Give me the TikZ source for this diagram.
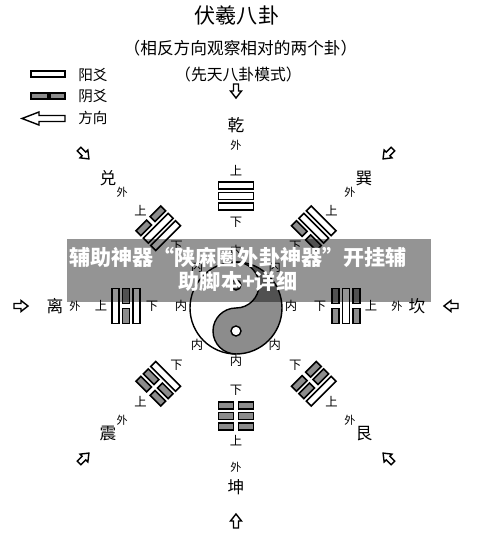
\documentclass[tikz,border=0pt]{standalone}
\usepackage{fontspec}
\setmainfont{Noto Sans CJK SC}
\usetikzlibrary{calc}

\definecolor{yingray}{gray}{0.55}

\tikzset{
  yang/.style={draw, line width=0.9pt, fill=white},
  yin/.style={draw, line width=0.9pt, fill=yingray},
  hollow/.style={draw, line width=0.8pt, fill=white, line join=miter},
  yaotag/.style={font=\fontsize{7}{8}\selectfont, inner sep=0pt},
  waitag/.style={font=\fontsize{6.3}{7}\selectfont, inner sep=0pt},
  guaname/.style={font=\fontsize{9.5}{11}\selectfont, inner sep=0pt},
  legend/.style={font=\fontsize{8.3}{10}\selectfont, inner sep=0pt, anchor=west},
}

% one line of a trigram: #1 = offset, #2 = 1 yang / 0 yin
\newcommand\yao[2]{%
  \ifnum#2=1
    \draw[yang] (-17.5,#1-3.5) rectangle (17.5,#1+3.5);
  \else
    \draw[yin] (-17.5,#1-3.5) rectangle (-2.5,#1+3.5);
    \draw[yin] (2.5,#1-3.5) rectangle (17.5,#1+3.5);
  \fi}

\begin{document}
\begin{tikzpicture}[x=0.02cm, y=0.02cm]
    \useasboundingbox (-236,-236) rectangle (264,306);
    % titles
    \node[font=\fontsize{12}{14}\selectfont] (title) at (1,291) {伏羲八卦};
    \node[font=\fontsize{9.5}{11}\selectfont] (sub) at (4.5,258) {（相反方向观察相对的两个卦）};
    \node[font=\fontsize{9}{11}\selectfont] (mode) at (2.5,232) {（先天八卦模式）};
    % legend
    \draw[yang] (-205,229) rectangle (-171,235);
    \node[legend] (lyang) at (-158,231) {阳爻};
    \draw[yin] (-205,207) rectangle (-188,213);
    \draw[yin] (-186,207) rectangle (-171,213);
    \node[legend] (lyin) at (-158,210) {阴爻};
    \draw[hollow] (-214,187.5) -- (-197,194) -- (-197,190.5) -- (-171,190.5)
        -- (-171,184.5) -- (-197,184.5) -- (-197,181) -- cycle;
    \node[legend] (ldir) at (-158,188) {方向};
    % taiji
    \begin{scope}[shift={(0,-2)}]
        \fill[yingray] (0,46) arc[start angle=90, end angle=-90, radius=46]
            arc[start angle=-90, end angle=-270, radius=23]
            arc[start angle=-90, end angle=90, radius=23] -- cycle;
        \draw[line width=0.8pt] (0,0) circle[radius=46];
        \draw[line width=0.8pt] (0,-46) arc[start angle=-90, end angle=-270, radius=23]
            arc[start angle=-90, end angle=90, radius=23];
        \draw[line width=0.8pt, fill=yingray] (0,23) circle[radius=5];
        \draw[line width=0.8pt, fill=white] (0,-23) circle[radius=5];
    \end{scope}
    % eight trigrams: angle / name / lower / middle / upper
    \foreach \ang/\nm/\a/\b/\c [count=\i] in {90/乾/1/1/1, 45/巽/0/1/1, 0/坎/0/1/0,
        -45/艮/0/0/1, -90/坤/0/0/0, -135/震/1/0/0, 180/离/1/0/1, 135/兑/1/1/0}{
        \begin{scope}[shift={(\ang:110)}, rotate=\ang-90]
            \yao{-10.5}{\a}\yao{0}{\b}\yao{10.5}{\c}
        \end{scope}
        \node[yaotag] (nei\i) at (\ang:55) {内};
        \node[yaotag] (xia\i) at (\ang:84) {下};
        \node[yaotag] (shang\i) at (\ang:135) {上};
        \node[waitag] (wai\i) at (\ang:161) {外};
        \node[guaname] (gua\i) at (\ang:181) {\nm};
        \begin{scope}[shift={(\ang:215)}, rotate=\ang+180]
            \draw[hollow] (-7,-2.5) -- (0,-2.5) -- (0,-5.5) -- (7,0) -- (0,5.5)
                -- (0,2.5) -- (-7,2.5) -- cycle;
        \end{scope}
    }
    % banner
    \fill[black, fill opacity=0.42] (-169,4) rectangle (195,67);
    \node[white, font=\bfseries\fontsize{12}{13.7}\selectfont, align=center] (banner) at (2,37)
        {辅助神器“陕麻圈外卦神器”开挂辅\\助脚本+详细};
\end{tikzpicture}
\end{document}
